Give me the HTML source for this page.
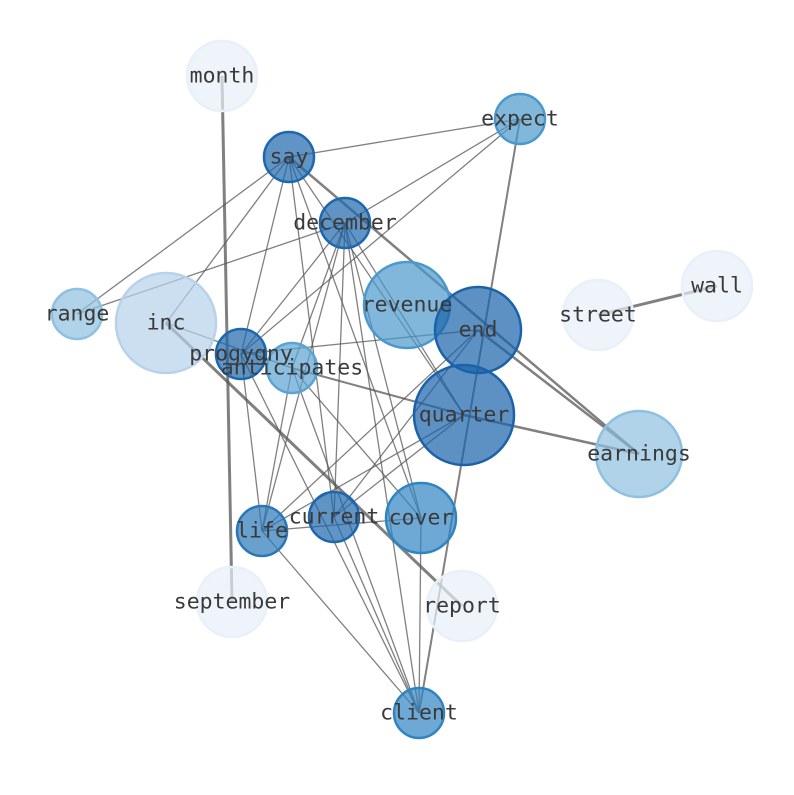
<!DOCTYPE html>
<html><head><meta charset="utf-8"><style>body{margin:0;background:#fff}</style></head><body>
<svg width="794" height="790" xmlns="http://www.w3.org/2000/svg">
<g stroke="#555" stroke-opacity="0.75" stroke-width="1.3" fill="none">
<line x1="289" y1="157" x2="520" y2="119"/>
<line x1="289" y1="157" x2="77" y2="314"/>
<line x1="289" y1="157" x2="166" y2="323"/>
<line x1="289" y1="157" x2="241" y2="354"/>
<line x1="289" y1="157" x2="334" y2="517"/>
<line x1="289" y1="157" x2="421" y2="518"/>
<line x1="289" y1="157" x2="464" y2="415"/>
<line x1="289" y1="157" x2="639" y2="454" stroke-width="2.5"/>
<line x1="345" y1="223" x2="520" y2="119"/>
<line x1="77" y1="314" x2="345" y2="223"/>
<line x1="345" y1="223" x2="241" y2="354"/>
<line x1="345" y1="223" x2="292" y2="368"/>
<line x1="345" y1="223" x2="262" y2="531"/>
<line x1="345" y1="223" x2="334" y2="517"/>
<line x1="345" y1="223" x2="421" y2="518"/>
<line x1="345" y1="223" x2="464" y2="415"/>
<line x1="345" y1="223" x2="419" y2="713"/>
<line x1="520" y1="119" x2="241" y2="354"/>
<line x1="520" y1="119" x2="419" y2="713" stroke-width="2"/>
<line x1="166" y1="323" x2="292" y2="368"/>
<line x1="241" y1="354" x2="478" y2="330"/>
<line x1="241" y1="354" x2="262" y2="531"/>
<line x1="241" y1="354" x2="419" y2="713"/>
<line x1="292" y1="368" x2="464" y2="415" stroke-width="2"/>
<line x1="292" y1="368" x2="262" y2="531"/>
<line x1="292" y1="368" x2="421" y2="518"/>
<line x1="292" y1="368" x2="419" y2="713"/>
<line x1="478" y1="330" x2="262" y2="531"/>
<line x1="478" y1="330" x2="334" y2="517"/>
<line x1="478" y1="330" x2="639" y2="454" stroke-width="2.5"/>
<line x1="464" y1="415" x2="639" y2="454" stroke-width="2.5"/>
<line x1="464" y1="415" x2="262" y2="531"/>
<line x1="464" y1="415" x2="334" y2="517"/>
<line x1="262" y1="531" x2="421" y2="518"/>
<line x1="262" y1="531" x2="419" y2="713"/>
<line x1="334" y1="517" x2="419" y2="713"/>
<line x1="421" y1="518" x2="419" y2="713"/>
<line x1="222" y1="76" x2="232" y2="602" stroke-width="3"/>
<line x1="598" y1="315" x2="717" y2="286" stroke-width="3"/>
<line x1="166" y1="323" x2="462" y2="606" stroke-width="3"/>
</g>
<g stroke-width="2.5" fill-opacity="0.7">
<circle cx="222" cy="76" r="35" fill="#e8f0fa" stroke="#e8f0fa"/>
<circle cx="598" cy="315" r="35" fill="#e8f0fa" stroke="#e8f0fa"/>
<circle cx="717" cy="286" r="35" fill="#e8f0fa" stroke="#e8f0fa"/>
<circle cx="232" cy="602" r="35" fill="#e8f0fa" stroke="#e8f0fa"/>
<circle cx="462" cy="606" r="35" fill="#e8f0fa" stroke="#e8f0fa"/>
<circle cx="166" cy="323" r="50" fill="#b7d2ea" stroke="#b7d2ea"/>
<circle cx="77" cy="314" r="25" fill="#8ec0df" stroke="#8ec0df"/>
<circle cx="639" cy="454" r="43" fill="#8ec0df" stroke="#8ec0df"/>
<circle cx="520" cy="119" r="25" fill="#4a98cc" stroke="#4a98cc"/>
<circle cx="407" cy="305" r="43" fill="#4a98cc" stroke="#4a98cc"/>
<circle cx="292" cy="368" r="25" fill="#5ba3d3" stroke="#5ba3d3"/>
<circle cx="421" cy="518" r="35" fill="#2f84c2" stroke="#2f84c2"/>
<circle cx="419" cy="713" r="25" fill="#2f84c2" stroke="#2f84c2"/>
<circle cx="262" cy="531" r="25" fill="#2a77b8" stroke="#2a77b8"/>
<circle cx="289" cy="157" r="25" fill="#1d67ad" stroke="#1d67ad"/>
<circle cx="345" cy="223" r="25" fill="#1d67ad" stroke="#1d67ad"/>
<circle cx="241" cy="354" r="25" fill="#1d67ad" stroke="#1d67ad"/>
<circle cx="334" cy="517" r="25" fill="#1d67ad" stroke="#1d67ad"/>
<circle cx="478" cy="330" r="43" fill="#1a62aa" stroke="#1a62aa"/>
<circle cx="464" cy="415" r="50" fill="#1a62aa" stroke="#1a62aa"/>
</g>
<g font-family="DejaVu Sans Mono, Liberation Mono, monospace" font-size="21.5" fill="#3a3a3a" text-anchor="middle" dominant-baseline="central">
<text x="222" y="76">month</text><text x="520" y="119">expect</text><text x="289" y="157">say</text>
<text x="345" y="223">december</text><text x="77" y="314">range</text><text x="166" y="323">inc</text>
<text x="407" y="305">revenue</text><text x="478" y="330">end</text><text x="598" y="315">street</text>
<text x="717" y="286">wall</text><text x="241" y="354">progygny</text><text x="292" y="368">anticipates</text>
<text x="464" y="415">quarter</text><text x="639" y="454">earnings</text><text x="334" y="517">current</text>
<text x="421" y="518">cover</text><text x="262" y="531">life</text><text x="232" y="602">september</text>
<text x="462" y="606">report</text><text x="419" y="713">client</text>
</g>
</svg>
</body></html>
